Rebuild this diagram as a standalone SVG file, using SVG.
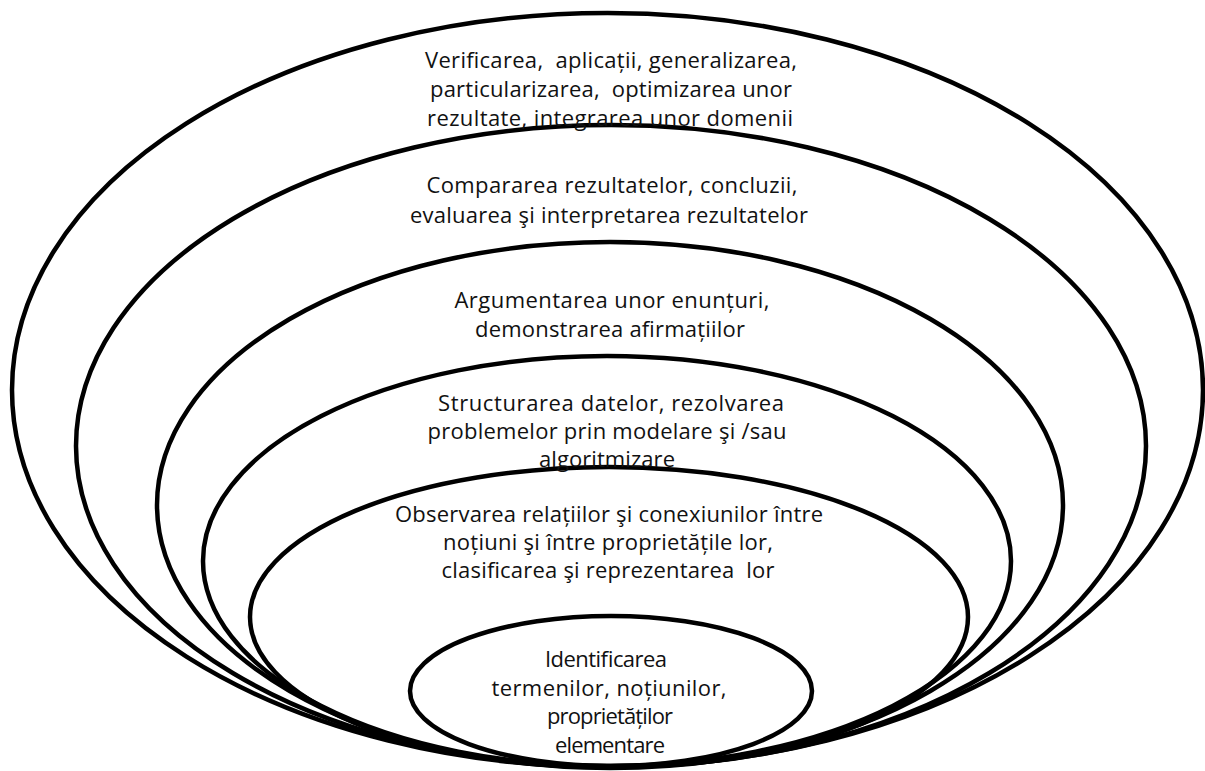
<svg xmlns="http://www.w3.org/2000/svg" width="1205" height="771" viewBox="0 0 1205 771">
  <style>
    .ring { fill: none; stroke: #000; stroke-width: 4.5; }
    .label { font-family: "Open Sans", "Liberation Sans", sans-serif; font-size: 22px; fill: #111; text-anchor: middle; white-space: pre; }
  </style>
  <rect width="1205" height="771" fill="#fff"/>

  <!-- nested levels, widest first; all share the same bottom edge -->
  <g id="level-6">
    <ellipse class="ring" cx="607.5" cy="390" rx="595.5" ry="377"/>
  </g>
  <g id="level-5">
    <ellipse class="ring" cx="611" cy="446" rx="535" ry="321"/>
  </g>
  <g id="level-4">
    <ellipse class="ring" cx="610" cy="505" rx="453" ry="263"/>
  </g>
  <g id="level-3">
    <ellipse class="ring" cx="607" cy="561" rx="404" ry="205"/>
  </g>
  <g id="level-2">
    <ellipse class="ring" cx="609" cy="617" rx="359" ry="150"/>
  </g>
  <g id="level-1">
    <ellipse class="ring" cx="611" cy="691" rx="201" ry="75"/>
  </g>

  <!-- captions, kept above the outlines -->
  <g id="captions" xml:space="preserve">
    <g id="level-6-text">
      <text class="label" x="611" y="68" textLength="372" lengthAdjust="spacing">Verificarea,  aplicații, generalizarea,</text>
      <text class="label" x="611" y="97" textLength="362" lengthAdjust="spacing">particularizarea,  optimizarea unor</text>
      <text class="label" x="610" y="126" textLength="366" lengthAdjust="spacing">rezultate, integrarea unor domenii</text>
    </g>
    <g id="level-5-text">
      <text class="label" x="612" y="193" textLength="371" lengthAdjust="spacing">Compararea rezultatelor, concluzii,</text>
      <text class="label" x="609" y="223" textLength="398" lengthAdjust="spacing">evaluarea şi interpretarea rezultatelor</text>
    </g>
    <g id="level-4-text">
      <text class="label" x="612" y="308" textLength="315" lengthAdjust="spacing">Argumentarea unor enunțuri,</text>
      <text class="label" x="610" y="337" textLength="270" lengthAdjust="spacing">demonstrarea afirmațiilor</text>
    </g>
    <g id="level-3-text">
      <text class="label" x="611" y="411" textLength="346" lengthAdjust="spacing">Structurarea datelor, rezolvarea</text>
      <text class="label" x="607" y="439" textLength="359" lengthAdjust="spacing">problemelor prin modelare şi /sau</text>
      <text class="label" x="607" y="467" textLength="136" lengthAdjust="spacing">algoritmizare</text>
    </g>
    <g id="level-2-text">
      <text class="label" x="609" y="522" textLength="428" lengthAdjust="spacing">Observarea relațiilor şi conexiunilor între</text>
      <text class="label" x="608" y="550" textLength="330" lengthAdjust="spacing">noțiuni şi între proprietățile lor,</text>
      <text class="label" x="608" y="578" textLength="333" lengthAdjust="spacing">clasificarea şi reprezentarea  lor</text>
    </g>
    <g id="level-1-text">
      <text class="label" x="606" y="667" textLength="122" lengthAdjust="spacing">Identificarea</text>
      <text class="label" x="609" y="696" textLength="235" lengthAdjust="spacing">termenilor, noțiunilor,</text>
      <text class="label" x="610" y="724" textLength="126" lengthAdjust="spacing">proprietăților</text>
      <text class="label" x="610" y="753" textLength="110" lengthAdjust="spacing">elementare</text>
    </g>
  </g>
</svg>
